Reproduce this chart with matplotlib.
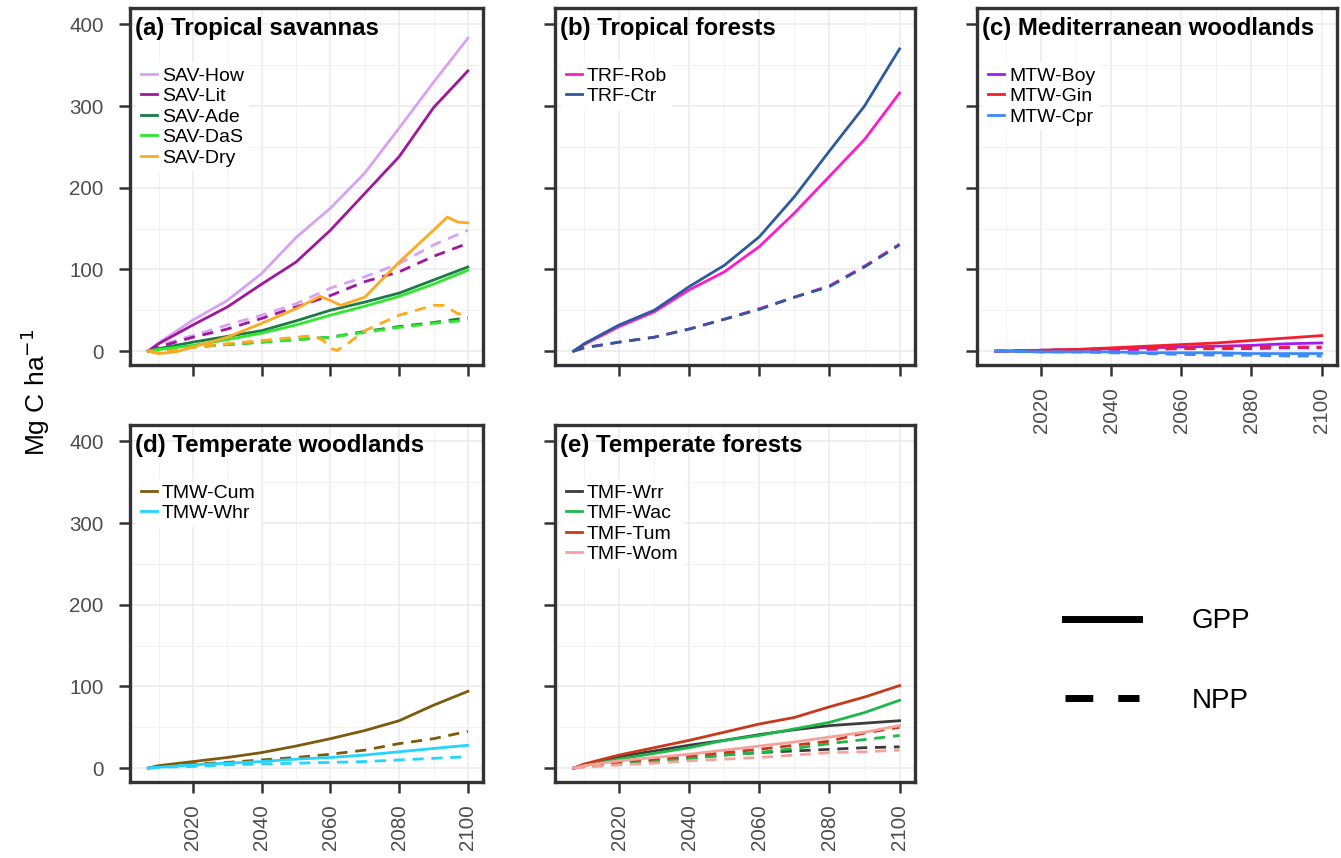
import numpy as np
import matplotlib
matplotlib.use("Agg")
import matplotlib.pyplot as plt
from matplotlib.lines import Line2D
from matplotlib.ticker import MultipleLocator

plt.rcParams['font.family'] = ['Liberation Sans', 'DejaVu Sans']

# === 1. Data (cumulative change, Mg C ha-1) ===
years = [2007, 2010, 2020, 2030, 2040, 2050, 2060, 2070, 2080, 2090, 2100]

# (a) tropical savannas
sav_how_gpp = [0, 10, 38, 62, 95, 139, 175, 218, 273, 329, 383]
sav_lit_gpp = [0, 9, 32, 54, 82, 109, 148, 193, 238, 298, 343]
sav_ade_gpp = [0, 3, 11, 18, 25, 37, 50, 60, 71, 87, 103]
sav_das_gpp = [0, 2, 7, 14, 22, 32, 44, 55, 67, 82, 99]
sav_how_npp = [0, 7, 19, 32, 44, 58, 77, 91, 107, 130, 148]
sav_lit_npp = [0, 5, 17, 27, 40, 54, 68, 85, 97, 116, 132]
sav_ade_npp = [0, 2, 5, 8, 11, 14, 17, 24, 30, 35, 41]
sav_das_npp = [0, 2, 5, 8, 11, 14, 17, 23, 29, 34, 38]
dry_gpp_years = [2007, 2010, 2015, 2020, 2030, 2040, 2050, 2057, 2060, 2063, 2070, 2080, 2090, 2094, 2097, 2100]
sav_dry_gpp = [0, -3, -1, 5, 17, 34, 52, 67, 62, 56, 66, 109, 148, 164, 158, 157]
dry_npp_years = [2007, 2010, 2020, 2030, 2040, 2050, 2055, 2058, 2060, 2062, 2065, 2070, 2080, 2090, 2093, 2097, 2100]
sav_dry_npp = [0, -2, 5, 9, 13, 17, 19, 13, 3, 1, 9, 25, 44, 56, 56, 46, 44]

# (b) tropical forests
trf_rob_gpp = [0, 8, 30, 48, 75, 97, 128, 169, 214, 259, 316]
trf_ctr_gpp = [0, 9, 32, 50, 79, 105, 140, 189, 245, 300, 370]
trf_rob_npp = [0, 4, 11, 17, 27, 39, 52, 66, 80, 104, 131]
trf_ctr_npp = [0, 4, 11, 17, 27, 39, 51, 66, 79, 103, 130]

# (c) mediterranean woodlands
mtw_boy_gpp = [0, 0, 1, 2, 3, 4, 5, 6, 7, 9, 10]
mtw_gin_gpp = [0, 0, 1, 2, 4, 6, 8, 10, 13, 16, 19]
mtw_cpr_gpp = [0, 0, -1, -1, -1, -2, -2, -2, -3, -3, -3]
mtw_boy_npp = [0, 0, 1, 1, 2, 2, 3, 3, 3, 4, 4]
mtw_gin_npp = [0, 0, 1, 2, 3, 3, 4, 4, 5, 5, 5]
mtw_cpr_npp = [0, 0, -1, -1, -2, -3, -4, -5, -5, -6, -6]

# (d) temperate woodlands
tmw_cum_gpp = [0, 3, 8, 13, 19, 27, 36, 46, 58, 77, 94]
tmw_whr_gpp = [0, 1, 4, 6, 8, 11, 13, 16, 20, 24, 28]
tmw_cum_npp = [0, 2, 5, 7, 10, 13, 17, 22, 30, 36, 45]
tmw_whr_npp = [0, 1, 2, 4, 5, 6, 7, 8, 10, 12, 14]

# (e) temperate forests
tmf_wrr_gpp = [0, 4, 14, 21, 28, 34, 41, 47, 52, 55, 58]
tmf_wac_gpp = [0, 3, 11, 18, 25, 34, 40, 48, 56, 68, 83]
tmf_tum_gpp = [0, 5, 16, 25, 34, 44, 54, 62, 75, 87, 101]
tmf_wom_gpp = [0, 3, 9, 13, 17, 22, 27, 32, 38, 44, 52]
tmf_wrr_npp = [0, 2, 6, 9, 12, 16, 19, 21, 23, 25, 26]
tmf_wac_npp = [0, 2, 6, 9, 12, 16, 19, 24, 30, 35, 40]
tmf_tum_npp = [0, 2, 8, 11, 15, 19, 23, 28, 33, 43, 50]
tmf_wom_npp = [0, 1, 4, 6, 9, 11, 13, 16, 19, 20, 22]

# (name, colour, years_gpp, gpp, years_npp, npp)
panels = [
    ("(a) Tropical savannas", [
        ("SAV-How", "#D8A1F2", years, sav_how_gpp, years, sav_how_npp),
        ("SAV-Lit", "#A0169E", years, sav_lit_gpp, years, sav_lit_npp),
        ("SAV-Ade", "#1B7A45", years, sav_ade_gpp, years, sav_ade_npp),
        ("SAV-DaS", "#2EE82E", years, sav_das_gpp, years, sav_das_npp),
        ("SAV-Dry", "#FFA91F", dry_gpp_years, sav_dry_gpp, dry_npp_years, sav_dry_npp),
    ]),
    ("(b) Tropical forests", [
        ("TRF-Rob", "#FF1ACB", years, trf_rob_gpp, years, trf_rob_npp),
        ("TRF-Ctr", "#2C5A9C", years, trf_ctr_gpp, years, trf_ctr_npp),
    ]),
    ("(c) Mediterranean woodlands", [
        ("MTW-Boy", "#A41CF0", years, mtw_boy_gpp, years, mtw_boy_npp),
        ("MTW-Gin", "#F51E2E", years, mtw_gin_gpp, years, mtw_gin_npp),
        ("MTW-Cpr", "#3C8AF7", years, mtw_cpr_gpp, years, mtw_cpr_npp),
    ]),
    ("(d) Temperate woodlands", [
        ("TMW-Cum", "#7D5A0C", years, tmw_cum_gpp, years, tmw_cum_npp),
        ("TMW-Whr", "#22D4FF", years, tmw_whr_gpp, years, tmw_whr_npp),
    ]),
    ("(e) Temperate forests", [
        ("TMF-Wrr", "#3C3C3C", years, tmf_wrr_gpp, years, tmf_wrr_npp),
        ("TMF-Wac", "#1DB84A", years, tmf_wac_gpp, years, tmf_wac_npp),
        ("TMF-Tum", "#C8381A", years, tmf_tum_gpp, years, tmf_tum_npp),
        ("TMF-Wom", "#F7A19B", years, tmf_wom_gpp, years, tmf_wom_npp),
    ]),
]

# === 2. Layout (figure fractions) ===
W, H = 1341, 858
cols_px = [(130, 483), (555, 915), (977, 1337)]
rows_px = [(8, 365), (425, 782)]
slots = [(0, 0), (0, 1), (0, 2), (1, 0), (1, 1)]

fig = plt.figure(figsize=(W / 100, H / 100), dpi=100)

dash = (0, (4, 2.8))
for (title, series), (r, c) in zip(panels, slots):
    x0, x1 = cols_px[c]
    y0, y1 = rows_px[r]
    ax = fig.add_axes([x0 / W, 1 - y1 / H, (x1 - x0) / W, (y1 - y0) / H])

    handles = []
    for name, col, yg, g, yn, n in series:
        ax.plot(yn, n, color=col, lw=2.0, ls=dash)
        h, = ax.plot(yg, g, color=col, lw=2.0)
        handles.append(h)

    ax.set_xlim(2001.7, 2104.4)
    ax.set_ylim(-17, 420)
    ax.xaxis.set_minor_locator(MultipleLocator(10))
    ax.yaxis.set_major_locator(MultipleLocator(100))
    ax.yaxis.set_minor_locator(MultipleLocator(50))
    ax.set_xticks([2020, 2040, 2060, 2080, 2100])
    ax.grid(which='major', color='#EBEBEB', lw=1.1, zorder=0)
    ax.grid(which='minor', color='#F0F0F0', lw=0.6, zorder=0)
    ax.set_axisbelow(True)
    for s in ax.spines.values():
        s.set_color('#333333')
        s.set_linewidth(2.4)
    ax.tick_params(which='major', length=8, width=1.8, color='#333333',
                   labelsize=14.8, labelcolor='#4D4D4D')
    ax.tick_params(axis='x', pad=8, labelrotation=90)
    ax.tick_params(axis='y', pad=11)
    ax.tick_params(which='minor', length=0)
    if c != 0:
        ax.tick_params(axis='y', labelleft=False)
    if r == 0 and c != 2:
        ax.tick_params(axis='x', labelbottom=False)

    ax.text(0.015, 0.975, title, transform=ax.transAxes, ha='left', va='top',
            fontsize=17.3, fontweight='bold')
    ax.legend(handles, [s[0] for s in series], loc='upper left',
              bbox_to_anchor=(0.0, 0.865), fontsize=14, frameon=True,
              fancybox=False, edgecolor='none', framealpha=1,
              handlelength=0.85, handletextpad=0.25, labelspacing=0.15,
              borderpad=0.25, borderaxespad=0.3)

fig.text(35 / W, 1 - 392 / H, r'Mg C ha$^{-1}$', rotation=90, ha='center',
         va='center', fontsize=19)

# line-type key in the empty slot
key = [Line2D([], [], color='black', lw=5),
       Line2D([], [], color='black', lw=5, ls=(0, (4, 3.6)))]
fig.legend(key, ['GPP', 'NPP'], loc='center left',
           bbox_to_anchor=(1065 / W, 1 - 661 / H), frameon=False, fontsize=20,
           handlelength=2.67, handletextpad=1.9, labelspacing=1.92,
           borderpad=0, borderaxespad=0)

fig.savefig("out.png", dpi=100)
